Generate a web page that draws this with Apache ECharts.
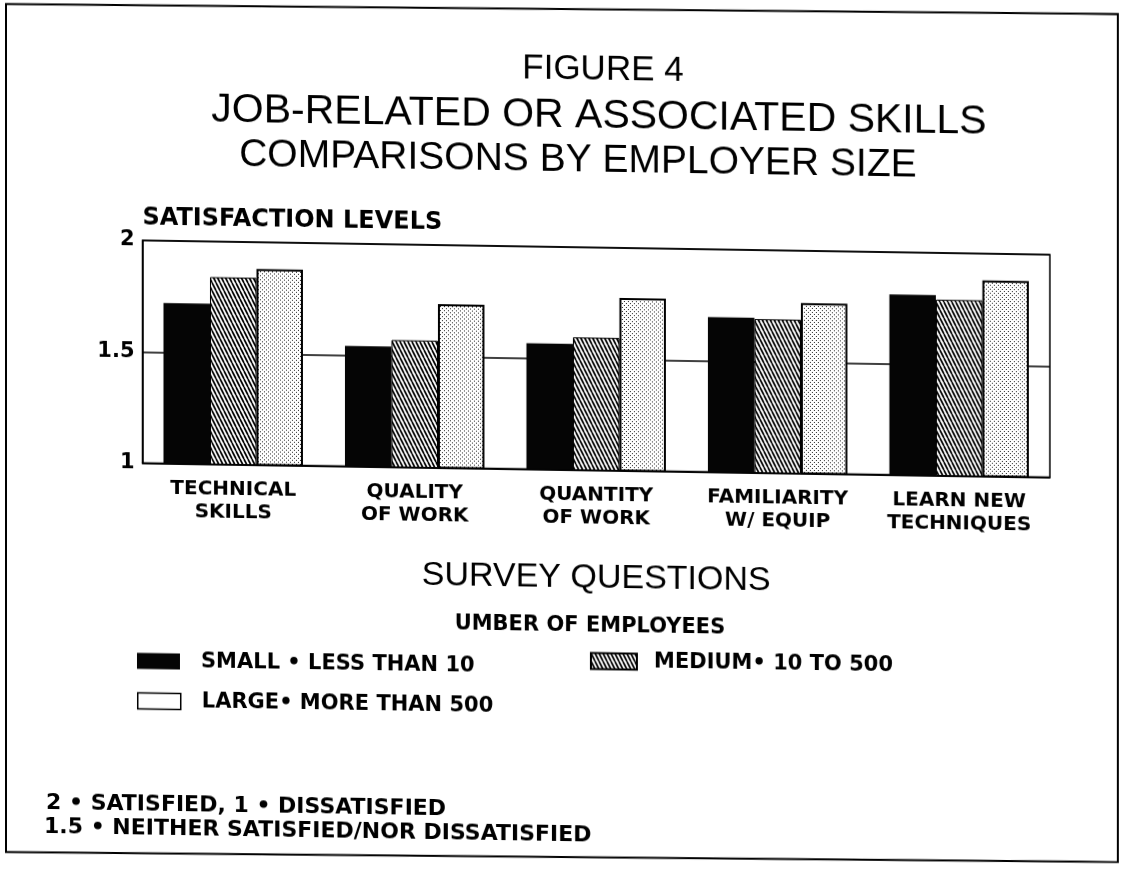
<!DOCTYPE html>
<html><head><meta charset="utf-8">
<script src="https://cdn.jsdelivr.net/npm/echarts@6/dist/echarts.min.js"></script>
<style>
html,body{margin:0;padding:0;background:#fff;overflow:hidden}
#c{width:1122px;height:888px;transform:skewY(0.9deg);transform-origin:561px 444px;background:#fff}
</style>
</head><body><div id="c"></div>
<script>
// ---- data ----
const categories = ['TECHNICAL\nSKILLS', 'QUALITY\nOF WORK', 'QUANTITY\nOF WORK', 'FAMILIARITY\nW/ EQUIP', 'LEARN NEW\nTECHNIQUES'];
const seriesNames = ['SMALL • LESS THAN 10', 'MEDIUM• 10 TO 500', 'LARGE• MORE THAN 500'];
const smallValues = [1.72, 1.54, 1.565, 1.695, 1.81];
const mediumValues = [1.84, 1.57, 1.595, 1.69, 1.79];
const largeValues = [1.88, 1.735, 1.775, 1.765, 1.88];
const yMin = 1, yMax = 2, yStep = 0.5;
const titleLines = ['FIGURE 4', 'JOB-RELATED OR ASSOCIATED SKILLS', 'COMPARISONS BY EMPLOYER SIZE'];
const yAxisTitle = 'SATISFACTION LEVELS';
const xAxisTitle = 'SURVEY QUESTIONS';
const legendTitle = 'UMBER OF EMPLOYEES';
const notes = ['2 • SATISFIED, 1 • DISSATISFIED', '1.5 • NEITHER SATISFIED/NOR DISSATISFIED'];

// ---- patterns ----
function hatchPattern() {
  const c = document.createElement('canvas'); c.width = 4; c.height = 8;
  const g = c.getContext('2d');
  g.fillStyle = '#fff'; g.fillRect(0, 0, 4, 8);
  g.strokeStyle = '#000'; g.lineWidth = 1.7;
  for (const o of [-4, 0, 4]) { g.beginPath(); g.moveTo(o, 0); g.lineTo(o + 4, 8); g.stroke(); }
  return c;
}
function dotPattern() {
  const c = document.createElement('canvas'); c.width = 4; c.height = 4;
  const g = c.getContext('2d');
  g.fillStyle = '#fff'; g.fillRect(0, 0, 4, 4);
  g.fillStyle = '#222'; g.fillRect(0, 0, 1, 1); g.fillRect(2, 2, 1, 1);
  return c;
}

const BOLD = '"DejaVu Sans", sans-serif';
const REG = '"Liberation Sans", Arial, sans-serif';
function legendText(pad) {
  return { fontFamily: BOLD, fontWeight: 'bold', fontSize: 21, color: '#000', padding: [0, 0, 0, pad] };
}

const chart = echarts.init(document.getElementById('c'), null, { renderer: 'canvas' });
chart.setOption({
  backgroundColor: '#fff',
  animation: false,
  grid: { left: 142.5, right: 72, top: 247, bottom: 418.5, show: true, borderColor: '#000', borderWidth: 1.5, backgroundColor: 'transparent' },
  xAxis: {
    type: 'category', data: categories,
    axisLine: { show: true, lineStyle: { color: '#000', width: 1.5 } },
    axisTick: { show: false },
    axisLabel: { interval: 0, margin: 14, fontFamily: BOLD, fontWeight: 'bold', fontSize: 20, lineHeight: 23, color: '#000' },
    name: xAxisTitle, nameLocation: 'middle', nameGap: 108,
    nameTextStyle: { fontFamily: REG, fontSize: 34, color: '#000', verticalAlign: 'middle' }
  },
  yAxis: {
    type: 'value', min: yMin, max: yMax, interval: yStep,
    axisLine: { show: true, lineStyle: { color: '#000', width: 1.5 } },
    axisTick: { show: false },
    axisLabel: { margin: 8, fontFamily: BOLD, fontWeight: 'bold', fontSize: 21, color: '#000' },
    splitLine: { show: true, lineStyle: { color: '#000', width: 1.5 } },
    name: yAxisTitle, nameLocation: 'end', nameGap: 22,
    nameTextStyle: { fontFamily: BOLD, fontWeight: 'bold', fontSize: 24, color: '#000', align: 'left', verticalAlign: 'middle' }
  },
  legend: [
    { data: [{ name: seriesNames[0] }], left: 137, top: 657, padding: 0, icon: 'rect', itemWidth: 43, itemHeight: 16, selectedMode: false, textStyle: legendText(16) },
    { data: [{ name: seriesNames[1] }], left: 590, top: 650, padding: 0, icon: 'rect', itemWidth: 46, itemHeight: 16, selectedMode: false, textStyle: legendText(12) },
    { data: [{ name: seriesNames[2], itemStyle: { color: '#fff', borderColor: '#000', borderWidth: 1.5 } }], left: 137, top: 697, padding: 0, icon: 'rect', itemWidth: 43, itemHeight: 16, selectedMode: false, textStyle: legendText(16) }
  ],
  series: [
    { name: seriesNames[0], type: 'bar', data: smallValues, barWidth: 46.5, barGap: '0%',
      itemStyle: { color: '#050505' } },
    { name: seriesNames[1], type: 'bar', data: mediumValues, barWidth: 46.5, barGap: '0%',
      itemStyle: { color: { image: hatchPattern(), repeat: 'repeat' }, borderColor: '#000', borderWidth: 1 } },
    { name: seriesNames[2], type: 'bar', data: largeValues, barWidth: 46.5, barGap: '0%',
      itemStyle: { color: { image: dotPattern(), repeat: 'repeat' }, borderColor: '#000', borderWidth: 2 } }
  ],
  graphic: [
    { type: 'polygon', shape: { points: [[6, 12.7], [1118, 5.3], [1118, 853.3], [6, 860.7]] }, style: { fill: 'none', stroke: '#000', lineWidth: 2 }, silent: true },
    { type: 'text', x: 603, y: 69, style: { text: titleLines[0], font: '35px ' + REG, fill: '#000', textAlign: 'center', textVerticalAlign: 'middle' } },
    { type: 'text', x: 599, y: 116, style: { text: titleLines[1], font: '41px ' + REG, fill: '#000', textAlign: 'center', textVerticalAlign: 'middle' } },
    { type: 'text', x: 578, y: 160, style: { text: titleLines[2], font: '39px ' + REG, fill: '#000', textAlign: 'center', textVerticalAlign: 'middle' } },
    { type: 'text', x: 590, y: 626, style: { text: legendTitle, font: 'bold 21px ' + BOLD, fill: '#000', textAlign: 'center', textVerticalAlign: 'middle' } },
    { type: 'text', x: 46, y: 811, style: { text: notes[0], font: 'bold 22px ' + BOLD, fill: '#000', textAlign: 'left', textVerticalAlign: 'middle' } },
    { type: 'text', x: 44, y: 835, style: { text: notes[1], font: 'bold 22px ' + BOLD, fill: '#000', textAlign: 'left', textVerticalAlign: 'middle' } }
  ]
});
</script>
</body></html>
